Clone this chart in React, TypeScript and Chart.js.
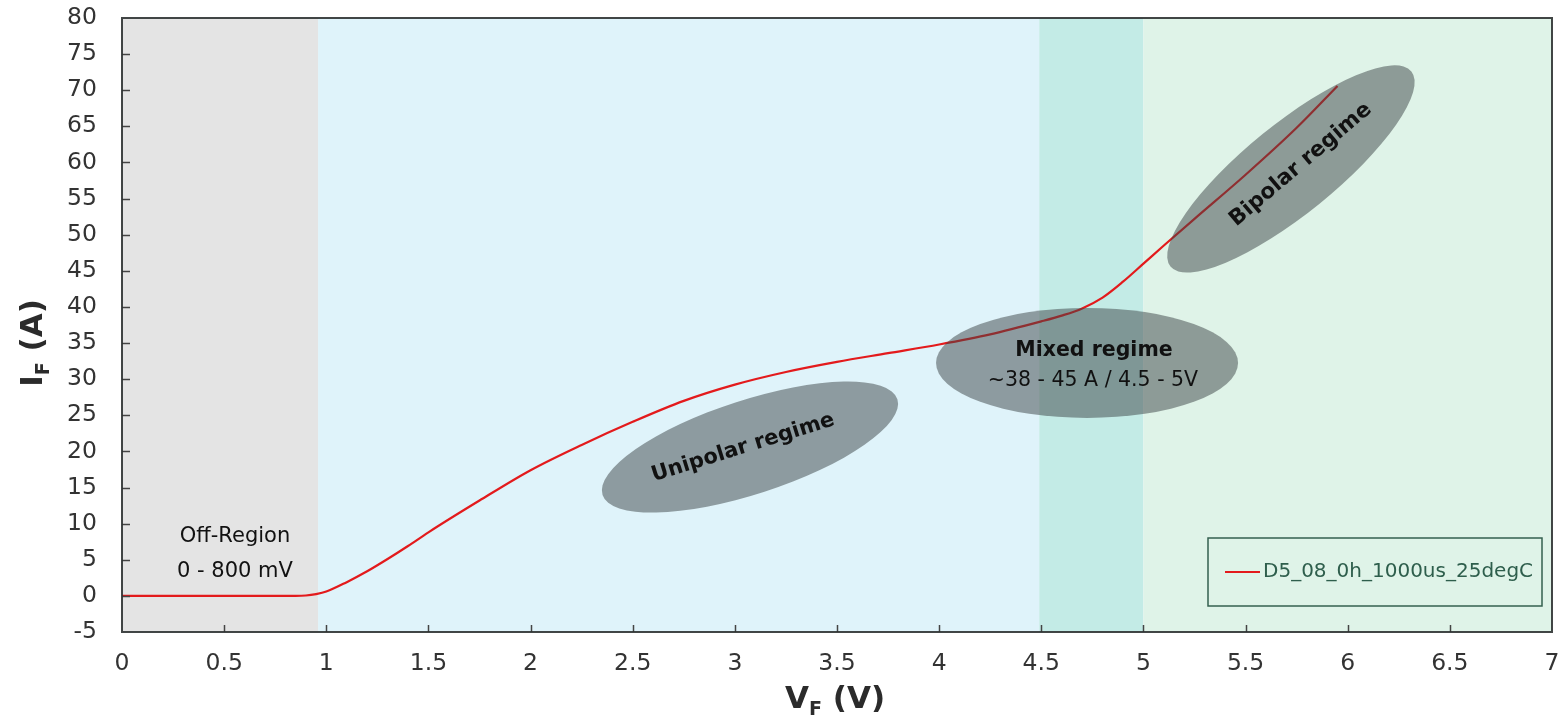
import React, { useEffect, useRef } from 'react';
import { Chart, registerables } from 'chart.js';

Chart.register(...registerables);

// ---- data ----
const voltage = [0, 0.5, 0.85, 0.9, 0.95, 1.0, 1.1, 1.2, 1.3, 1.4, 1.5, 1.75, 2.0, 2.25, 2.5, 2.75, 3.0, 3.25, 3.5, 3.75, 4.0, 4.25, 4.5, 4.6, 4.7, 4.8, 4.9, 5.0, 5.1, 5.25, 5.5, 5.75, 5.95];
const current = [0, 0, 0, 0.05, 0.25, 0.6, 1.9, 3.4, 5.1, 6.9, 8.8, 13.2, 17.4, 20.9, 24.1, 27.0, 29.25, 31.0, 32.4, 33.6, 34.8, 36.2, 38.0, 38.8, 39.8, 41.3, 43.5, 46.0, 48.5, 52.2, 58.3, 64.8, 70.6];
const seriesLabel = 'D5_08_0h_1000us_25degC';

const xMin = 0, xMax = 7, xStep = 0.5;
const yMin = -5, yMax = 80, yStep = 5;

// background regions (V bounds)
const regionBounds = [0, 0.96, 4.49, 5.0, 7];
const regionColors = ['#e4e4e4', '#dff3fa', '#c3ebe6', '#dff3e8'];

// annotation ellipses (centre in data units)
const ellipseCentersV = [3.074, 4.724, 5.722];
const ellipseCentersI = [20.6, 32.25, 59.1];
const ellipseRx = [155, 151, 155];
const ellipseRy = [47, 55, 45];
const ellipseRot = [-18, 0, -39];

// annotation texts
const noteTexts = ['Off-Region', '0 - 800 mV', 'Unipolar regime', 'Mixed regime', '~38 - 45 A / 4.5 - 5V', 'Bipolar regime'];
const noteV = [0.553, 0.553, 3.04, 4.758, 4.753, 5.77];
const noteI = [8.15, 3.3, 20.5, 34.0, 29.8, 59.7];
const noteBold = [false, false, true, true, false, true];
const noteRot = [0, 0, -17.3, 0, 0, -40.3];
const noteSize = [21, 21, 21, 20.5, 20.5, 21.5];

const FONT = '"DejaVu Sans", Verdana, sans-serif';

const decorPlugin = {
  id: 'decor',
  beforeDatasetsDraw(chart: any) {
    const { ctx, chartArea } = chart;
    const xs = chart.scales.x;
    ctx.save();
    for (let k = 0; k < regionColors.length; k++) {
      const x0 = xs.getPixelForValue(regionBounds[k]);
      const x1 = xs.getPixelForValue(regionBounds[k + 1]);
      ctx.fillStyle = regionColors[k];
      ctx.fillRect(x0, chartArea.top, x1 - x0, chartArea.bottom - chartArea.top);
    }
    ctx.restore();
  },
  afterDatasetsDraw(chart: any) {
    const { ctx, chartArea } = chart;
    const xs = chart.scales.x;
    const ys = chart.scales.y;
    ctx.save();
    // ellipses
    for (let k = 0; k < ellipseCentersV.length; k++) {
      const cx = xs.getPixelForValue(ellipseCentersV[k]);
      const cy = ys.getPixelForValue(ellipseCentersI[k]);
      ctx.beginPath();
      ctx.ellipse(cx, cy, ellipseRx[k], ellipseRy[k], (ellipseRot[k] * Math.PI) / 180, 0, Math.PI * 2);
      ctx.fillStyle = 'rgba(60,68,70,0.5)';
      ctx.fill();
    }
    // notes
    for (let k = 0; k < noteTexts.length; k++) {
      const px = xs.getPixelForValue(noteV[k]);
      const py = ys.getPixelForValue(noteI[k]);
      ctx.save();
      ctx.translate(px, py);
      ctx.rotate((noteRot[k] * Math.PI) / 180);
      ctx.font = `${noteBold[k] ? 'bold ' : ''}${noteSize[k]}px ${FONT}`;
      ctx.fillStyle = '#111';
      ctx.textAlign = 'center';
      ctx.textBaseline = 'middle';
      ctx.fillText(noteTexts[k], 0, 0);
      ctx.restore();
    }
    // tick marks
    ctx.strokeStyle = '#444';
    ctx.lineWidth = 1.5;
    ctx.beginPath();
    for (let v = yMin + yStep; v < yMax; v += yStep) {
      const y = Math.round(ys.getPixelForValue(v)) + 0.5;
      ctx.moveTo(chartArea.left, y);
      ctx.lineTo(chartArea.left + 8, y);
    }
    for (let v = xMin + xStep; v < xMax; v += xStep) {
      const x = Math.round(xs.getPixelForValue(v)) + 0.5;
      ctx.moveTo(x, chartArea.bottom);
      ctx.lineTo(x, chartArea.bottom - 7);
    }
    ctx.stroke();
    // border
    ctx.strokeStyle = 'rgba(45,50,50,0.9)';
    ctx.lineWidth = 2;
    ctx.strokeRect(chartArea.left, chartArea.top, chartArea.right - chartArea.left, chartArea.bottom - chartArea.top);

    // legend
    const lw = 334, lh = 68;
    const lx = chartArea.right - 10 - lw;
    const ly = chartArea.bottom - 26 - lh;
    ctx.strokeStyle = '#35604f';
    ctx.lineWidth = 1.5;
    ctx.strokeRect(lx, ly, lw, lh);
    const ds = chart.data.datasets[0];
    ctx.strokeStyle = ds.borderColor;
    ctx.lineWidth = 2;
    ctx.beginPath();
    ctx.moveTo(lx + 17, ly + lh / 2);
    ctx.lineTo(lx + 52, ly + lh / 2);
    ctx.stroke();
    ctx.font = `20px ${FONT}`;
    ctx.fillStyle = '#2e5e4c';
    ctx.textAlign = 'left';
    ctx.textBaseline = 'middle';
    ctx.fillText(ds.label, lx + 55, ly + lh / 2);

    // axis titles
    const big = `bold 31px ${FONT}`;
    const small = `bold 19px ${FONT}`;
    const drawTitle = (main: string, sub: string, rest: string) => {
      ctx.font = big;
      const w1 = ctx.measureText(main).width;
      const w3 = ctx.measureText(rest).width;
      ctx.font = small;
      const w2 = ctx.measureText(sub).width;
      const total = w1 + w2 + w3;
      let x = -total / 2;
      ctx.fillStyle = '#2b2b2b';
      ctx.textAlign = 'left';
      ctx.textBaseline = 'alphabetic';
      ctx.font = big;
      ctx.fillText(main, x, 0);
      x += w1;
      ctx.font = small;
      ctx.fillText(sub, x, 7);
      x += w2;
      ctx.font = big;
      ctx.fillText(rest, x, 0);
    };
    ctx.save();
    ctx.translate((chartArea.left + chartArea.right) / 2 - 2, chartArea.bottom + 76);
    drawTitle('V', 'F', ' (V)');
    ctx.restore();
    ctx.save();
    ctx.translate(41.5, (chartArea.top + chartArea.bottom) / 2 + 18);
    ctx.rotate(-Math.PI / 2);
    drawTitle('I', 'F', ' (A)');
    ctx.restore();

    ctx.restore();
  },
};

export default function App() {
  const ref = useRef<HTMLCanvasElement | null>(null);
  useEffect(() => {
    if (!ref.current) return;
    Chart.defaults.font.family = FONT;
    const chart = new Chart(ref.current, {
      type: 'line',
      data: {
        datasets: [
          {
            label: seriesLabel,
            data: voltage.map((v, i) => ({ x: v, y: current[i] })),
            borderColor: '#e31a1c',
            borderWidth: 2.2,
            pointRadius: 0,
            fill: false,
            cubicInterpolationMode: 'monotone',
          },
        ],
      },
      options: {
        animation: false,
        responsive: true,
        maintainAspectRatio: false,
        layout: { padding: { left: 0, right: 12, top: 18, bottom: 0 } },
        plugins: { legend: { display: false }, tooltip: { enabled: false } },
        scales: {
          x: {
            type: 'linear',
            min: xMin,
            max: xMax,
            grid: { display: false, drawTicks: false },
            border: { display: false },
            ticks: {
              stepSize: xStep,
              autoSkip: false,
              maxRotation: 0,
              padding: 18,
              color: '#333',
              font: { size: 23.5, family: FONT },
              callback: (v: any) => Number(v).toString(),
            },
            afterFit: (s: any) => {
              s.height = 87;
              s.paddingLeft = 0;
              s.paddingRight = 0;
            },
          },
          y: {
            type: 'linear',
            min: yMin,
            max: yMax,
            grid: { display: false, drawTicks: false },
            border: { display: false },
            ticks: { stepSize: yStep, autoSkip: false, padding: 25, color: '#333', font: { size: 23.5, family: FONT } },
            afterFit: (s: any) => {
              s.width = 122;
              s.paddingTop = 0;
              s.paddingBottom = 0;
            },
          },
        },
      },
      plugins: [decorPlugin],
    } as any);
    return () => chart.destroy();
  }, []);
  return (
    <div style={{ position: 'fixed', left: 0, top: 0, width: 1564, height: 719, background: '#fff' }}>
      <canvas ref={ref} />
    </div>
  );
}
